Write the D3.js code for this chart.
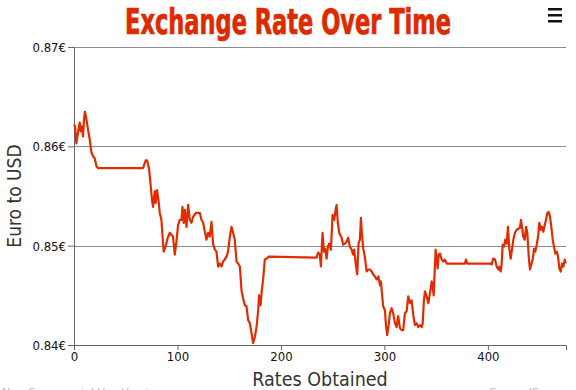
<!DOCTYPE html>
<html>
<head>
<meta charset="utf-8">
<script src="https://cdn.jsdelivr.net/npm/d3@7"></script>
<style>
  body { margin: 0; background: #fff; }
  svg { display: block; }
</style>
</head>
<body>
<svg id="canvas" width="576" height="390"></svg>
<script>
// rate readings: index of the rate obtained and its value in euro
var rateIndex = [
  0, 1, 2.3, 3.9, 5.5, 6.5, 7.7, 8.7, 9.7, 10.6, 12, 13.5, 15.2, 16.8, 18.4, 20, 21.7, 23.2,
  66.7, 69.3, 70.6, 72.5, 73.9, 75.4, 76.4, 78, 79, 80.3, 81.6, 82.9, 84.5, 85.8, 86.7, 88.7, 90.6,
  92.6, 95.7, 97.4, 99, 100.6, 102.2, 103.9, 104.8, 106.1, 107.1, 108.7, 110.3, 111.9, 113.5, 115.1,
  117.7, 121.6, 123.2, 124.8, 128, 129.6, 131.2, 132.9, 134.4, 136.1, 137.7, 139.3, 140.9, 142.6,
  144.1, 145.7, 147.4, 148.9, 150.6, 152.2, 153.8, 155.4, 157.1, 158.6, 160.3, 161.9, 163.4, 165.1,
  166.7, 168.3, 169.9, 171.6, 173.1, 174.8, 176.4, 178, 178.9, 180.3, 181.5, 182.8, 184.4, 186.1,
  188.3, 234.4, 236, 237.6, 238.6, 240.2, 241.5, 242.7, 244.1, 245.4, 246.6, 248.3, 249.9, 251.5,
  253.1, 253.8, 255, 256.3, 258.6, 260.2, 261.8, 263.4, 265, 266.6, 268.3, 269.8, 270.8, 272.4,
  273.7, 275, 276.3, 277.3, 278.2, 279.5, 281.1, 282.8, 284.3, 286, 287.6, 289.2, 290.8, 292.5,
  294.1, 295.7, 296.6, 297.9, 298.8, 300.5, 301.5, 302.7, 304.1, 305.3, 307, 308.5, 310.2, 311.8,
  313.3, 315, 316.6, 318.2, 319.8, 321.5, 323, 324.7, 326.3, 327.9, 329.5, 331.1, 332.7, 334.3,
  336, 337, 338.2, 339.2, 340.8, 342.4, 344, 345.7, 346.6, 347.6, 348.5, 349.5, 350.5, 351.5,
  352.4, 353.7, 355.3, 356.9, 358.5, 360.2, 377.9, 378.8, 380.1, 402, 403.7, 405.2, 406.9, 408.5,
  410.1, 411, 412.4, 413.3, 414.3, 415.6, 416.8, 418.2, 419.4, 420.7, 422, 423.3, 424.6, 426.2,
  427.9, 429.4, 431, 432, 433, 434.2, 435.6, 436.9, 438.1, 439.5, 440.7, 442, 443.3, 444.6,
  445.8, 447.2, 448.5, 449.7, 451.1, 452.3, 453.6, 455, 456.2, 457.5, 458.8, 460.1, 461.3, 462.7,
  463.9, 465.2, 466.6, 467.8, 469.1, 470.4, 471.7, 473, 474.3, 475.2
];
var rateValue = [
  0.8622, 0.8620, 0.8603, 0.8614, 0.8624, 0.8615, 0.8620, 0.8610, 0.8627, 0.8635, 0.8627, 0.8617, 0.8607, 0.8594, 0.8590, 0.8588, 0.8580, 0.8578,
  0.8578, 0.8586, 0.8586, 0.8578, 0.8563, 0.8546, 0.8539, 0.8555, 0.8543, 0.8556, 0.8546, 0.8533, 0.8526, 0.8506, 0.8494, 0.8500, 0.8508,
  0.8513, 0.8509, 0.8491, 0.8504, 0.8521, 0.8526, 0.8526, 0.8539, 0.8523, 0.8536, 0.8519, 0.8541, 0.8526, 0.8523, 0.8529,
  0.8533, 0.8533, 0.8526, 0.8523, 0.8506, 0.8513, 0.8509, 0.8524, 0.8502, 0.8496, 0.8494, 0.8479, 0.8482, 0.8479,
  0.8484, 0.8486, 0.8489, 0.8494, 0.8509, 0.8519, 0.8513, 0.8506, 0.8484, 0.8482, 0.8479, 0.8455, 0.8447, 0.8440,
  0.8439, 0.8425, 0.8422, 0.8412, 0.8402, 0.8408, 0.8418, 0.8435, 0.8450, 0.8440, 0.8455, 0.8466, 0.8486, 0.8487,
  0.8489, 0.8488, 0.8493, 0.8491, 0.8479, 0.8513, 0.8494, 0.8497, 0.8487, 0.8499, 0.8502, 0.8496, 0.8531, 0.8526,
  0.8538, 0.8541, 0.8523, 0.8513, 0.8508, 0.8501, 0.8502, 0.8504, 0.8508, 0.8499, 0.8496, 0.8491, 0.8496, 0.8481,
  0.8471, 0.8502, 0.8506, 0.8528, 0.8513, 0.8497, 0.8489, 0.8474, 0.8476, 0.8476, 0.8474, 0.8471, 0.8469, 0.8466,
  0.8469, 0.8460, 0.8464, 0.8449, 0.8439, 0.8435, 0.8420, 0.8410, 0.8420, 0.8432, 0.8437, 0.8432, 0.8422, 0.8418,
  0.8429, 0.8417, 0.8415, 0.8415, 0.8432, 0.8434, 0.8449, 0.8442, 0.8445, 0.8430, 0.8420, 0.8422, 0.8418, 0.8420,
  0.8418, 0.8422, 0.8445, 0.8454, 0.8449, 0.8442, 0.8452, 0.8464, 0.8459, 0.8450, 0.8472, 0.8496, 0.8486, 0.8477,
  0.8491, 0.8492, 0.8486, 0.8484, 0.8486, 0.8482, 0.8482, 0.8486, 0.8482, 0.8482, 0.8481, 0.8487, 0.8486, 0.8479,
  0.8476, 0.8479, 0.8474, 0.8481, 0.8501, 0.8499, 0.8506, 0.8502, 0.8519, 0.8497, 0.8487, 0.8496, 0.8506, 0.8513,
  0.8516, 0.8517, 0.8518, 0.8526, 0.8519, 0.8509, 0.8506, 0.8519, 0.8513, 0.8489, 0.8476, 0.8481, 0.8486, 0.8497,
  0.8494, 0.8501, 0.8509, 0.8523, 0.8516, 0.8519, 0.8514, 0.8521, 0.8526, 0.8533, 0.8534, 0.8529, 0.8519, 0.8506,
  0.8499, 0.8492, 0.8494, 0.8489, 0.8477, 0.8474, 0.8482, 0.8479, 0.8486, 0.8482
];
var xTicks = [0, 100, 200, 300, 400];
var yTicks = [0.84, 0.85, 0.86, 0.87];

var svg = d3.select('#canvas');
var plotLeft = 74;
var plotTop = 47;
var plotWidth = 492;
var plotHeight = 298;

var lineColor = '#e02c00';

var x = d3.scaleLinear().domain([0, 475.5]).range([0, plotWidth]);
var y = d3.scaleLinear().domain([0.84, 0.87]).range([plotHeight, 0]);

// title, stretched a bit to look like the tall condensed original
svg.append('text')
  .attr('transform', 'translate(288,34) scale(1,1.2)')
  .attr('text-anchor', 'middle')
  .attr('textLength', 326)
  .attr('lengthAdjust', 'spacingAndGlyphs')
  .style('font-family', "Impact, 'Liberation Sans Narrow', 'DejaVu Sans Condensed', sans-serif")
  .style('font-weight', 'bold')
  .style('font-size', '29px')
  .style('fill', '#dd2a00')
  .style('stroke', '#dd2a00')
  .style('stroke-width', 0.6)
  .text('Exchange Rate Over Time');

// menu icon
[0, 6, 12].forEach(function(dy) {
  svg.append('rect')
    .attr('x', 548)
    .attr('y', 8 + dy)
    .attr('width', 14)
    .attr('height', 2.5)
    .style('fill', '#111');
});

var chart = svg.append('g').attr('transform', 'translate(' + plotLeft + ',' + plotTop + ')');

// gridlines
chart.append('g')
  .selectAll('line')
  .data(yTicks.filter(d => d > 0.84))
  .enter()
  .append('line')
  .attr('x1', 0)
  .attr('x2', plotWidth)
  .attr('y1', d => Math.round(y(d)) + 0.5)
  .attr('y2', d => Math.round(y(d)) + 0.5)
  .style('stroke', '#8a8a8a')
  .style('stroke-width', 1);

var yAxis = chart.append('g')
  .call(d3.axisLeft(y).tickValues(yTicks).tickSize(6).tickFormat(d => d3.format('.2f')(d) + '€'));
var xAxis = chart.append('g')
  .attr('transform', 'translate(0,' + plotHeight + ')')
  .call(d3.axisBottom(x).tickValues(xTicks).tickSize(5).tickFormat(d3.format('d')));

[yAxis, xAxis].forEach(function(ax) {
  ax.select('.domain').style('stroke', '#666');
  ax.selectAll('line').style('stroke', '#666');
  ax.selectAll('text')
    .style('font-family', "'DejaVu Sans Condensed', 'DejaVu Sans', sans-serif")
    .style('font-size', '13px')
    .style('fill', '#111');
});
yAxis.selectAll('text').attr('x', -8).attr('dy', '0.35em');
xAxis.selectAll('text').attr('y', 7);

// rate line
var points = rateIndex.map((d, i) => ({idx: d, rate: rateValue[i]}));
chart.append('path')
  .datum(points)
  .attr('d', d3.line().x(d => x(d.idx)).y(d => y(d.rate)))
  .style('fill', 'none')
  .style('stroke', lineColor)
  .style('stroke-width', 2.2)
  .style('stroke-linejoin', 'round');

// axis titles
svg.append('text')
  .attr('x', plotLeft + plotWidth / 2)
  .attr('y', 386)
  .attr('text-anchor', 'middle')
  .style('font-family', "'DejaVu Sans Condensed', 'DejaVu Sans', sans-serif")
  .style('font-size', '19.5px')
  .style('fill', '#333')
  .text('Rates Obtained');

svg.append('text')
  .attr('transform', 'translate(21,' + (plotTop + plotHeight / 2) + ') rotate(-90)')
  .attr('text-anchor', 'middle')
  .style('font-family', "'DejaVu Sans Condensed', 'DejaVu Sans', sans-serif")
  .style('font-size', '19px')
  .style('fill', '#333')
  .text('Euro to USD');

// faint credits cut by the bottom edge
svg.append('text')
  .attr('x', 2)
  .attr('y', 396)
  .style('font-family', "'DejaVu Sans', sans-serif")
  .style('font-size', '11px')
  .style('fill', '#bbb')
  .text('Non-Commercial Use Version');
svg.append('text')
  .attr('x', 566)
  .attr('y', 396)
  .attr('text-anchor', 'end')
  .style('font-family', "'DejaVu Sans', sans-serif")
  .style('font-size', '11px')
  .style('fill', '#bbb')
  .text('CanvasJS.com');
</script>
</body>
</html>
